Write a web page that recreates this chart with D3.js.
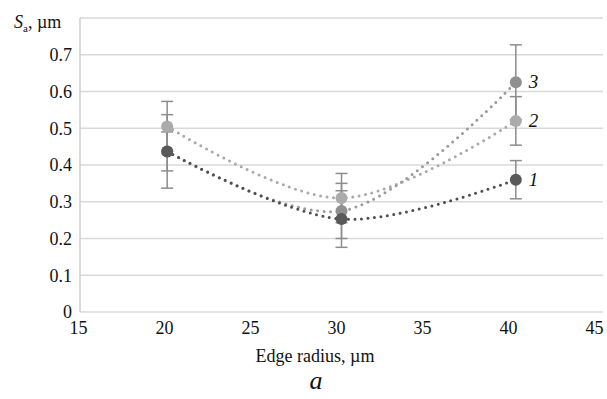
<!DOCTYPE html>
<html>
<head>
<meta charset="utf-8">
<script src="https://cdn.jsdelivr.net/npm/d3@7"></script>
<style>
  body { margin: 0; background: #fff; }
</style>
</head>
<body>
<svg id="chart" width="607" height="399" font-family="Liberation Serif, Times New Roman, serif"></svg>
<script>
// data
const radius = [20, 30, 40];
const seriesNames = ['1', '2', '3'];
const sa1 = [0.437, 0.253, 0.360];
const sa2 = [0.505, 0.310, 0.520];
const sa3 = [0.437, 0.275, 0.625];
const err1 = [0.100, 0.077, 0.052];
const err2 = [0.068, 0.067, 0.066];
const err3 = [0.053, 0.075, 0.102];
const xTicks = [15, 20, 25, 30, 35, 40, 45];
const yTicks = [0, 0.1, 0.2, 0.3, 0.4, 0.5, 0.6, 0.7, 0.8];

const series = [
    {name: seriesNames[0], values: sa1, err: err1, line: '#4d4d4d', marker: '#595959'},
    {name: seriesNames[1], values: sa2, err: err2, line: '#a9a9a9', marker: '#ababab'},
    {name: seriesNames[2], values: sa3, err: err3, line: '#9a9a9a', marker: '#8f8f8f'}
];

const svg = d3.select('#chart');
const x = d3.scaleLinear().domain([15, 45]).range([80, 603]);
// tick labels in the reference sit slightly left of the plot positions
const xLab = d3.scaleLinear().domain([15, 45]).range([78, 594]);
const y = d3.scaleLinear().domain([0, 0.8]).range([312, 18]);

// grid
svg.append('g').selectAll('line.grid').data(yTicks).join('line')
    .attr('class', 'grid')
    .attr('x1', x(15)).attr('x2', x(45))
    .attr('y1', d => y(d)).attr('y2', d => y(d))
    .attr('stroke', '#d9d9d9').attr('stroke-width', 1.6);
svg.append('line')
    .attr('x1', x(15)).attr('x2', x(15)).attr('y1', y(0.8)).attr('y2', y(0))
    .attr('stroke', '#d0d0d0').attr('stroke-width', 1.6);

// axes (labels only)
const yAxis = svg.append('g').attr('transform', `translate(${x(15)},0)`)
    .call(d3.axisLeft(y).tickValues(yTicks.slice(0, -1)).tickSize(0).tickPadding(8)
        .tickFormat(d => d === 0 ? '0' : d3.format('.1f')(d)));
yAxis.select('.domain').remove();
yAxis.attr('font-family', null).attr('font-size', 18);
yAxis.selectAll('text').attr('fill', '#111');

const xAxis = svg.append('g').attr('transform', `translate(0,${y(0)})`)
    .call(d3.axisBottom(xLab).tickValues(xTicks).tickSize(0).tickPadding(9));
xAxis.select('.domain').remove();
xAxis.attr('font-family', null).attr('font-size', 18);
xAxis.selectAll('text').attr('fill', '#111');

// titles
const yt = svg.append('text').attr('x', 14).attr('y', 28)
    .attr('font-size', 18).attr('fill', '#111');
yt.append('tspan').attr('font-style', 'italic').text('S');
yt.append('tspan').attr('dy', 4).attr('font-size', 11).text('a');
yt.append('tspan').attr('dy', -4).text(', \u00b5m');

svg.append('text').attr('x', 315).attr('y', 362).attr('text-anchor', 'middle')
    .attr('font-size', 18).attr('fill', '#111')
    .text('Edge radius, \u00b5m');
svg.append('text').attr('x', 316).attr('y', 389).attr('text-anchor', 'middle')
    .attr('font-size', 26).attr('font-style', 'italic')
    .attr('fill', '#111').text('a');

// lines
const line = d3.line().x((d, i) => x(radius[i])).y(d => y(d)).curve(d3.curveCatmullRom.alpha(0.5));
const order = [1, 2, 0];
order.forEach(si => {
    const s = series[si];
    svg.append('path').datum(s.values)
        .attr('d', line)
        .attr('fill', 'none')
        .attr('stroke', s.line)
        .attr('stroke-width', 3)
        .attr('stroke-linecap', 'round')
        .attr('stroke-dasharray', '0 6.5');
});

// error bars
order.forEach(si => {
    const s = series[si];
    const g = svg.append('g').attr('stroke', '#8c8c8c').attr('stroke-width', 1.5);
    s.values.forEach((v, i) => {
        const cx = x(radius[i]);
        const lo = y(v - s.err[i]), hi = y(v + s.err[i]);
        g.append('line').attr('x1', cx).attr('x2', cx).attr('y1', lo).attr('y2', hi);
        g.append('line').attr('x1', cx - 6).attr('x2', cx + 6).attr('y1', lo).attr('y2', lo);
        g.append('line').attr('x1', cx - 6).attr('x2', cx + 6).attr('y1', hi).attr('y2', hi);
    });
});

// markers
order.forEach(si => {
    const s = series[si];
    svg.append('g').selectAll('circle').data(s.values).join('circle')
        .attr('cx', (d, i) => x(radius[i]))
        .attr('cy', d => y(d))
        .attr('r', 6)
        .attr('fill', s.marker);
});

// series labels
svg.append('g').selectAll('text').data(series).join('text')
    .attr('x', x(radius[2]) + 13)
    .attr('y', d => y(d.values[2]) + 6)
    .attr('font-size', 19).attr('font-style', 'italic')
    .attr('fill', '#111')
    .text(d => d.name);
</script>
</body>
</html>
